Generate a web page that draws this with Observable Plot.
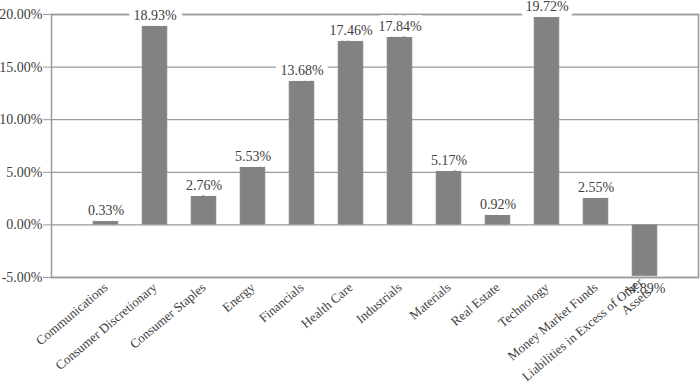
<!DOCTYPE html>
<html>
<head>
<meta charset="utf-8">
<script src="https://cdn.jsdelivr.net/npm/d3@7"></script>
<script src="https://cdn.jsdelivr.net/npm/@observablehq/plot@0.6"></script>
<style>
  html, body { margin: 0; padding: 0; background: #fff; }
  #chart svg { display: block; }
</style>
</head>
<body>
<div id="chart"></div>
<script>
const categories = [
  "Communications", "Consumer Discretionary", "Consumer Staples", "Energy",
  "Financials", "Health Care", "Industrials", "Materials", "Real Estate",
  "Technology", "Money Market Funds", "Liabilities in Excess of Other\nAssets"
];
const values = [0.33, 18.93, 2.76, 5.53, 13.68, 17.46, 17.84, 5.17, 0.92, 19.72, 2.55, -4.89];
const yTicks = [-5, 0, 5, 10, 15, 20];

const data = categories.map((c, i) => ({ category: c, value: values[i] }));
const pos = data.filter(d => d.value >= 0);
const neg = data.filter(d => d.value < 0);
const fmt = v => v.toFixed(2) + "%";
const font = "'Liberation Serif', 'Times New Roman', serif";

const labelOpts = {
  x: "category", y: "value",
  text: d => fmt(d.value),
  fill: "#404040",
  stroke: "#fff", strokeWidth: 12, strokeOpacity: 1,
  fontSize: 14, fontFamily: font
};

const chart = Plot.plot({
  width: 700,
  height: 388,
  marginLeft: 51,
  marginRight: 2,
  marginTop: 14,
  marginBottom: 111,
  style: { fontFamily: font, fontSize: "13px", color: "#404040", background: "#fff" },
  x: { domain: categories, paddingInner: 0.5, paddingOuter: 0.78, label: null },
  y: { domain: [-5, 20], label: null },
  marks: [
    Plot.gridY(yTicks, { stroke: "#9a9a9a", strokeOpacity: 1, strokeWidth: 1.3 }),
    Plot.axisY(yTicks, { tickFormat: fmt, tickSize: 8, tickPadding: 1, stroke: "#9a9a9a", fontSize: 14, fontFamily: font, label: null }),
    Plot.frame({ stroke: "#9a9a9a", strokeWidth: 1.5 }),
    Plot.barY(data, { x: "category", y: "value", fill: "#828282", stroke: "#9a9a9a", strokeWidth: 0.6 }),
    Plot.text(pos, { ...labelOpts, lineAnchor: "bottom", dy: -6 }),
    Plot.text(neg, { ...labelOpts, lineAnchor: "top", dy: 7, strokeWidth: 6 }),
    Plot.axisX({ tickSize: 0, tickPadding: 8, tickRotate: -40, fontSize: 13, fontFamily: font, label: null })
  ]
});
document.getElementById("chart").appendChild(chart);
</script>
</body>
</html>
